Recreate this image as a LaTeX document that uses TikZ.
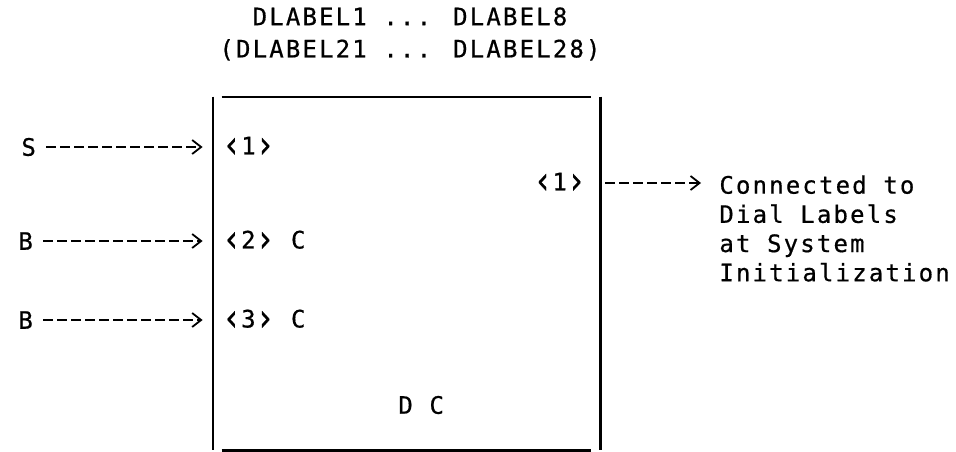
\documentclass[tikz,border=0pt]{standalone}
\usepackage{fontspec}
\usepackage{tikz}
\usetikzlibrary{arrows.meta,positioning}
\newfontfamily\diafont[LetterSpace=9,FakeBold=0.6]{DejaVu Sans Mono}
\newcommand{\pin}[1]{\raisebox{-0.12em}{\scalebox{1.3}[1.55]{‹}}#1\raisebox{-0.12em}{\scalebox{1.3}[1.55]{›}}}

\begin{document}
\begin{tikzpicture}[
  x=0.5pt, y=-0.5pt,
  lbl/.style={inner sep=0pt, font=\diafont\fontsize{12}{14.6}\selectfont},
  port/.style={lbl, anchor=west},
  arr/.style={line width=1.2pt, dash pattern=on 5pt off 2pt, -{Straight Barb[length=4.5pt,width=7pt,line width=0.9pt]}},
  edge/.style={line width=1.1pt}
]
  \useasboundingbox (0,0) rectangle (956,451);

  % the box
  \node[inner sep=0pt, minimum width=193.5pt, minimum height=176.5pt] (dc) at (406.5,273.5) {};
  \draw[edge] (dc.north west) -- (dc.south west);
  \draw[edge] (dc.north east) -- (dc.south east);
  \draw[edge, shorten <=4.5pt, shorten >=4.5pt] (dc.north west) -- (dc.north east);
  \draw[edge, shorten <=4.5pt, shorten >=4.5pt] (dc.south west) -- (dc.south east);

  \node[lbl, align=center] (title) at (410,34) {DLABEL1 ... DLABEL8\\[1.5pt](DLABEL21 ... DLABEL28)};

  % inputs
  \node[port] (s) at (21,147) {S};
  \node[port] (b1) at (18,241) {B};
  \node[port] (b2) at (18,320) {B};
  \node[port] (in1) at (222,147) {\pin{1}};
  \node[port] (in2) at (222,241) {\pin{2} C};
  \node[port] (in3) at (222,320) {\pin{3} C};
  \node[port] (name) at (398,405) {D C};

  % output
  \node[lbl, anchor=east] (out1) at (586,183) {\pin{1}};
  \node[lbl, anchor=north west, align=left] (note) at (719,175) {Connected to\\Dial Labels\\at System\\Initialization};

  \draw[arr, shorten <=5pt, shorten >=5pt] (s) -- (s -| dc.west);
  \draw[arr, shorten <=5pt, shorten >=5pt] (b1) -- (b1 -| dc.west);
  \draw[arr, shorten <=5pt, shorten >=5pt] (b2) -- (b2 -| dc.west);
  \draw[arr, shorten <=2.5pt, shorten >=9pt] (out1 -| dc.east) -- (out1 -| note.west);
\end{tikzpicture}
\end{document}
